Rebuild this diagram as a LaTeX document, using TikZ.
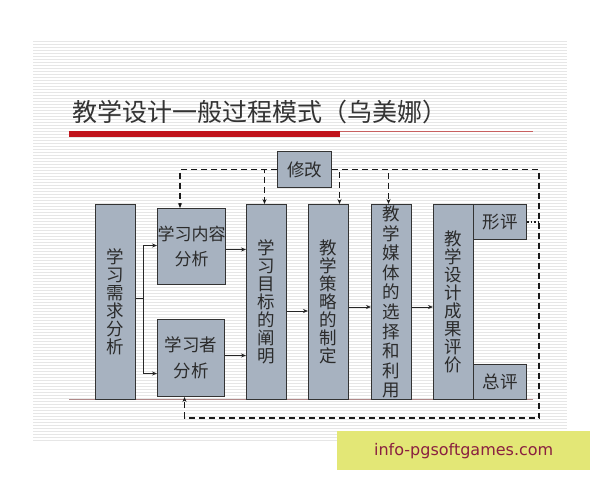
\documentclass[tikz,border=0pt]{standalone}
\usepackage{fontspec}
\newfontfamily\cjk{Noto Sans CJK SC}
\newfontfamily\wmfont{DejaVu Sans}
\usetikzlibrary{arrows.meta,calc}
\definecolor{boxfill}{HTML}{A7B2C0}
\definecolor{boxline}{HTML}{333333}
\definecolor{txt}{HTML}{2B2B2B}
\definecolor{redbar}{HTML}{C0141C}
\definecolor{redthin}{HTML}{C86060}
\definecolor{baseln}{HTML}{B08888}
\definecolor{stripe}{HTML}{E6E6E6}
\definecolor{wmfill}{HTML}{E3E776}
\definecolor{wmtext}{HTML}{8A2040}
\tikzset{
  stagebox/.style={draw=boxline, line width=1pt, fill=boxfill, inner sep=0pt,
    anchor=north west, align=center, text=txt,
    font=\cjk\fontsize{17.5}{18}\selectfont},
  flowarrow/.style={draw=black!85, line width=0.8pt, -{Stealth[length=5pt,width=4pt]}},
  fbline/.style={draw=black!90, line width=1.5pt, dash pattern=on 6pt off 4pt},
  fbarrow/.style={fbline, -{Stealth[length=5pt,width=4pt]}},
}
\begin{document}
\begin{tikzpicture}[x=1pt,y=-1pt]
\useasboundingbox (0,0) rectangle (600,480);
\fill[white] (0,0) rectangle (600,480);
% slide background with stripes
\fill[white] (33,40) rectangle (567,440);
\foreach \yy in {41,44,...,440} {
  \draw[stripe, line width=1pt] (33,\yy) -- (567,\yy);
}
% title
\node[anchor=base west, inner sep=0pt, text=black!80, font=\cjk\fontsize{25}{28}\selectfont] (title) at (72,121) {教学设计一般过程模式（乌美娜）};
\fill[redbar] (69,131) rectangle (340,137);
\draw[redthin, line width=1pt] (340,131.5) -- (533,131.5);
% baseline
\draw[baseln, line width=1pt] (69,399) -- (533,399);
% boxes
\node[stagebox, minimum width=40pt, minimum height=195pt] (a) at (95,204) {学\\习\\需\\求\\分\\析};
\node[stagebox, minimum width=67pt, minimum height=76pt, font=\cjk\fontsize{17}{25}\selectfont] (b) at (157,208) {学习内容\\分析};
\node[stagebox, minimum width=67pt, minimum height=77pt, font=\cjk\fontsize{17.5}{26}\selectfont] (c) at (157,319) {学习者\\分析};
\node[stagebox, minimum width=40pt, minimum height=195pt] (d) at (246,204) {学\\习\\目\\标\\的\\阐\\明};
\node[stagebox, minimum width=40pt, minimum height=195pt] (e) at (308,204) {教\\学\\策\\略\\的\\制\\定};
\node[stagebox, minimum width=40pt, minimum height=195pt, font=\cjk\fontsize{17.5}{19.6}\selectfont] (f) at (371,204) {教\\学\\媒\\体\\的\\选\\择\\和\\利\\用};
\node[stagebox, minimum width=40pt, minimum height=195pt] (g) at (433,204) {教\\学\\设\\计\\成\\果\\评\\价};
\node[stagebox, minimum width=53pt, minimum height=35pt] (p) at (473,204) {形评};
\node[stagebox, minimum width=53pt, minimum height=35pt] (q) at (473,364) {总评};
\node[stagebox, minimum width=54pt, minimum height=36pt] (m) at (277,151) {修改};
% solid flow connectors
\coordinate (br) at (143,298);
\draw[draw=black!85, line width=0.8pt] (a.east |- br) -- (br);
\draw[flowarrow] (br) |- ([yshift=1pt]b.west);
\draw[flowarrow] (br) |- ([yshift=-15.5pt]c.west);
\draw[flowarrow] ([yshift=-3pt]b.east) -- ([yshift=-3pt]b.east -| d.west);
\draw[flowarrow] ([yshift=2.5pt]c.east) -- ([yshift=2.5pt]c.east -| d.west);
\draw[flowarrow] ([yshift=-9pt]d.east) -- ([yshift=-9pt]d.east -| e.west);
\draw[flowarrow] ([yshift=-5pt]e.east) -- ([yshift=-5pt]e.east -| f.west);
\draw[flowarrow] ([yshift=-5pt]f.east) -- ([yshift=-5pt]f.east -| g.west);
% feedback (dashed)
\coordinate (rb) at (539,418);
\draw[fbarrow] (m.west) -| ([xshift=-11.5pt]b.north);
\draw[fbarrow] (m.west) -| ([xshift=-2pt]d.north);
\draw[fbarrow] (m.east) -| ([xshift=11pt]e.north);
\draw[fbarrow] (m.east) -| ([xshift=-3pt]f.north);
\draw[fbarrow] (m.east) -| (rb) -| ([xshift=-6.5pt]c.south);
\draw[black!90, line width=1.5pt, dotted] (p.east) -- (p.east -| rb);
% watermark
\node[fill=wmfill, minimum width=253pt, minimum height=39pt, inner sep=0pt, anchor=north west, text=wmtext, font=\wmfont\fontsize{16}{18}\selectfont] (wm) at (337,431) {info-pgsoftgames.com};
\end{tikzpicture}
\end{document}
